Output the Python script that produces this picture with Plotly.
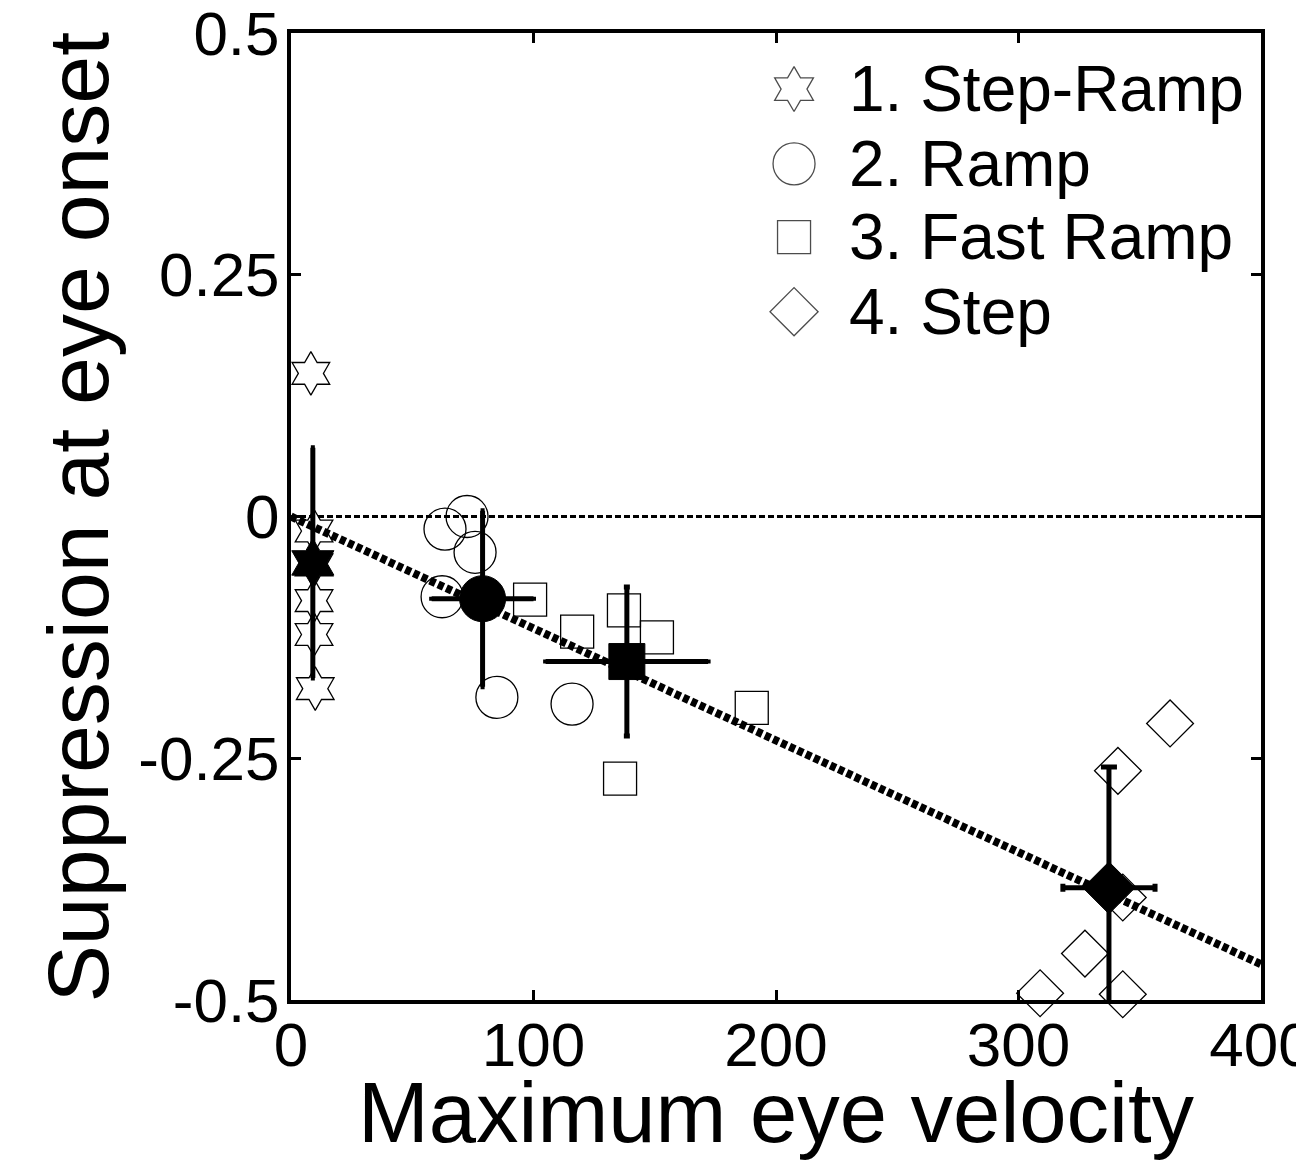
import plotly.graph_objects as go

# ---------------- data ----------------
step_ramp_vel = [8.2, 9.5, 9.5, 9.5, 9.5, 10.0]
step_ramp_sup = [0.148, -0.015, -0.050, -0.087, -0.122, -0.178]

ramp_vel = [63.5, 72.6, 75.9, 62.3, 84.9, 115.9]
ramp_sup = [-0.013, 0.000, -0.037, -0.083, -0.187, -0.194]

fast_ramp_vel = [98.6, 118.0, 137.3, 150.9, 190.0, 135.7]
fast_ramp_sup = [-0.086, -0.119, -0.097, -0.125, -0.198, -0.271]

step_vel = [362.5, 341.0, 343.0, 327.4, 308.9, 343.0]
step_sup = [-0.214, -0.263, -0.394, -0.452, -0.493, -0.494]

group_names = ["1. Step-Ramp", "2. Ramp", "3. Fast Ramp", "4. Step"]
mean_vel = [9.0, 79.0, 138.5, 337.3]
mean_sup = [-0.048, -0.085, -0.150, -0.384]
mean_sup_err = [0.119, 0.091, 0.077, 0.125]
mean_vel_err = [0.0, 21.0, 33.5, 19.0]

fit_vel = [0, 400]
fit_sup = [0.0, -0.463]

zero_vel = [0, 400]
zero_sup = [0.0, 0.0]

x_ticks = [0, 100, 200, 300, 400]
x_ticktext = ["0", "100", "200", "300", "400"]
y_ticks = [0.5, 0.25, 0, -0.25, -0.5]
y_ticktext = ["0.5", "0.25", "0", "-0.25", "-0.5"]

x_title = "Maximum eye velocity"
y_title = "Suppression at eye onset"

# ---------------- styling ----------------
FONT = "Liberation Sans, Arial, sans-serif"
open_symbols = ["hexagram-open", "circle-open", "square-open", "diamond-open"]
filled_symbols = ["hexagram", "circle", "square", "diamond"]
open_sizes = [33, 42, 33, 36]
filled_sizes = [37, 46, 36, 40]
cap_y = [2, 2, 3, 8]
cap_x = [0, 2, 2, 4]

fig = go.Figure()

fig.add_trace(go.Scatter(x=zero_vel, y=zero_sup, mode="lines",
                         line=dict(color="black", width=3, dash="6px,3px"),
                         showlegend=False, hoverinfo="skip"))
fig.add_trace(go.Scatter(x=fit_vel, y=fit_sup, mode="lines",
                         line=dict(color="black", width=8, dash="6px,3px"),
                         showlegend=False, hoverinfo="skip"))

groups = [(step_ramp_vel, step_ramp_sup), (ramp_vel, ramp_sup),
          (fast_ramp_vel, fast_ramp_sup), (step_vel, step_sup)]
for i, (gx, gy) in enumerate(groups):
    fig.add_trace(go.Scatter(
        x=gx, y=gy, mode="markers", name=group_names[i], showlegend=False,
        cliponaxis=False,
        marker=dict(symbol=open_symbols[i], size=open_sizes[i], color="black",
                    line=dict(color="black", width=1.3))))

for i in range(4):
    fig.add_trace(go.Scatter(
        x=[mean_vel[i]], y=[mean_sup[i]], mode="markers", showlegend=False,
        cliponaxis=True,
        marker=dict(symbol=filled_symbols[i], size=filled_sizes[i], color="black",
                    line=dict(color="black", width=1)),
        error_y=dict(type="data", array=[mean_sup_err[i]], symmetric=True,
                     color="black", thickness=5, width=cap_y[i]),
        error_x=dict(type="data", array=[mean_vel_err[i]], symmetric=True,
                     color="black", thickness=5, width=cap_x[i],
                     visible=mean_vel_err[i] > 0)))

# ---------------- custom legend (large symbols) ----------------
leg_x = 0.5186
leg_y = [0.942, 0.8647, 0.789, 0.7118]
leg_sizes = [34, 42, 33, 37]
fig.add_trace(go.Scatter(
    x=[leg_x] * 4, y=leg_y, xaxis="x2", yaxis="y2", mode="markers",
    showlegend=False, hoverinfo="skip", cliponaxis=False,
    marker=dict(symbol=open_symbols, size=leg_sizes, color="black",
                line=dict(color="black", width=1.3))))
for i, name in enumerate(group_names):
    fig.add_annotation(x=0.573, y=leg_y[i], xref="paper", yref="paper",
                       text=name, showarrow=False, xanchor="left", yanchor="middle",
                       font=dict(family=FONT, size=64, color="black"))

# axis titles
fig.add_annotation(x=0.5, y=-0.1163, xref="paper", yref="paper", text=x_title,
                   showarrow=False, xanchor="center", yanchor="middle",
                   font=dict(family=FONT, size=85, color="black"))
fig.add_annotation(x=-0.2196, y=0.5, xref="paper", yref="paper", text=y_title,
                   textangle=-90, showarrow=False, xanchor="center", yanchor="middle",
                   font=dict(family=FONT, size=86, color="black"))

axis_common = dict(showline=True, linewidth=4, linecolor="black", mirror="ticks",
                   ticks="inside", ticklen=10, tickwidth=3, tickcolor="black",
                   showgrid=False, zeroline=False, automargin=False,
                   ticklabeloverflow="allow",
                   tickfont=dict(family=FONT, size=62, color="black"))

# the page body adds an 8 px offset, margins compensate for it
fig.update_layout(
    width=1304, height=1164,
    margin=dict(l=283, r=51, t=25, b=172),
    paper_bgcolor="white", plot_bgcolor="white",
    showlegend=False,
    font=dict(family=FONT, color="black"),
    xaxis=dict(range=[0, 400], tickmode="array", tickvals=x_ticks, ticktext=x_ticktext,
               ticklabelstandoff=-12, **axis_common),
    yaxis=dict(range=[-0.5, 0.5], tickmode="array", tickvals=y_ticks, ticktext=y_ticktext,
               ticklabelstandoff=-5, **axis_common),
    xaxis2=dict(overlaying="x", range=[0, 1], visible=False, anchor="y2"),
    yaxis2=dict(overlaying="y", range=[0, 1], visible=False, anchor="x2"),
)

fig.write_html("out.html")
